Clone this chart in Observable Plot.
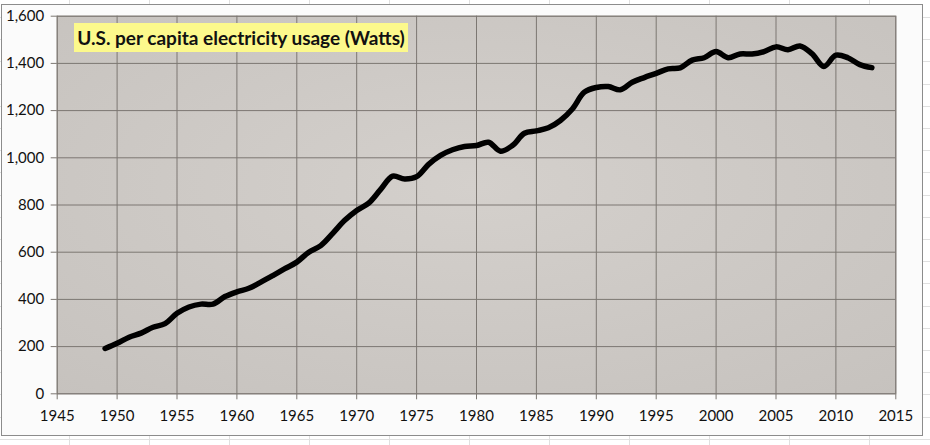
<!DOCTYPE html>
<html>
<head>
<meta charset="utf-8">
<script src="https://cdn.jsdelivr.net/npm/d3@7"></script>
<script src="https://cdn.jsdelivr.net/npm/@observablehq/plot@0.6"></script>
<style>
  html, body { margin: 0; padding: 0; }
  body {
    width: 930px; height: 445px; position: relative; overflow: hidden;
    background-color: #ffffff;
    background-image:
      repeating-linear-gradient(to right, transparent 0px, transparent 69px, #e0e0e0 69px, #e0e0e0 70px, transparent 70px, transparent 80px),
      repeating-linear-gradient(to bottom, transparent 0px, transparent 17px, #e0e0e0 17px, #e0e0e0 18px, transparent 18px, transparent 22.2px);
    background-position: 0 0, 0 0;
  }
  #chartarea {
    position: absolute; left: 1px; top: 4px; width: 920px; height: 430px;
    border: 1px solid #8c8c8c; background: #fbfbfb;
  }
  #plot { position: absolute; left: 0; top: 0; }
  #title {
    position: absolute; left: 74px; top: 23px; width: 334px; height: 29px;
    background: #fcf98c; font-family: Lato, sans-serif; font-weight: bold;
    font-size: 19px; color: #111; line-height: 29px; text-align: center;
    white-space: nowrap;
  }
</style>
</head>
<body>
<div id="chartarea"></div>
<div id="plot"></div>
<div id="title">U.S. per capita electricity usage (Watts)</div>
<script>
const years = d3.range(1949, 2014);
const watts = [
  192, 214, 240, 257, 282, 297, 341, 368, 380, 380,
  412, 432, 447, 473, 501, 530, 558, 600, 628, 680,
  735, 777, 808, 866, 922, 910, 920, 972, 1010, 1034,
  1048, 1052, 1066, 1028, 1052, 1104, 1114, 1127, 1158, 1207,
  1278, 1298, 1302, 1288, 1320, 1340, 1358, 1377, 1381, 1414,
  1424, 1450, 1424, 1440, 1440, 1450, 1470, 1458, 1474, 1441,
  1387, 1435, 1424, 1395, 1382
];
const xTicks = d3.range(1945, 2016, 5);
const yTicks = d3.range(0, 1601, 200);

const data = years.map((year, i) => ({year, watts: watts[i]}));

const chart = Plot.plot({
  width: 930,
  height: 445,
  marginLeft: 56.7,
  marginRight: 34.7,
  marginTop: 15.7,
  marginBottom: 51.7,
  style: {background: "transparent", fontFamily: "Lato, sans-serif", color: "#111"},
  x: {domain: [1945, 2015]},
  y: {domain: [0, 1600]},
  marks: [
    Plot.frame({fill: "url(#plotbg)", stroke: "#8a8580"}),
    Plot.gridX(xTicks, {stroke: "#7c7772", strokeOpacity: 1, strokeWidth: 1}),
    Plot.gridY(yTicks, {stroke: "#7c7772", strokeOpacity: 1, strokeWidth: 1}),
    Plot.axisX(xTicks, {tickFormat: d => String(d), tickSize: 6, tickPadding: 11, fontSize: 15, stroke: "#7c7772", fill: "#111", label: null}),
    Plot.axisY(yTicks, {tickFormat: d3.format(","), tickSize: 6, tickPadding: 7, fontSize: 15, stroke: "#7c7772", fill: "#111", label: null}),
    Plot.line(data, {x: "year", y: "watts", curve: "catmull-rom", stroke: "#000", strokeWidth: 5.5, strokeLinecap: "round", strokeLinejoin: "round"})
  ]
});

const svg = d3.select(chart);
const defs = svg.insert("defs", ":first-child");
const g = defs.append("radialGradient").attr("id", "plotbg").attr("cx", "50%").attr("cy", "45%").attr("r", "75%");
g.append("stop").attr("offset", "0%").attr("stop-color", "#d4d0cc");
g.append("stop").attr("offset", "100%").attr("stop-color", "#c6c2be");

document.getElementById("plot").appendChild(chart);
</script>
</body>
</html>
